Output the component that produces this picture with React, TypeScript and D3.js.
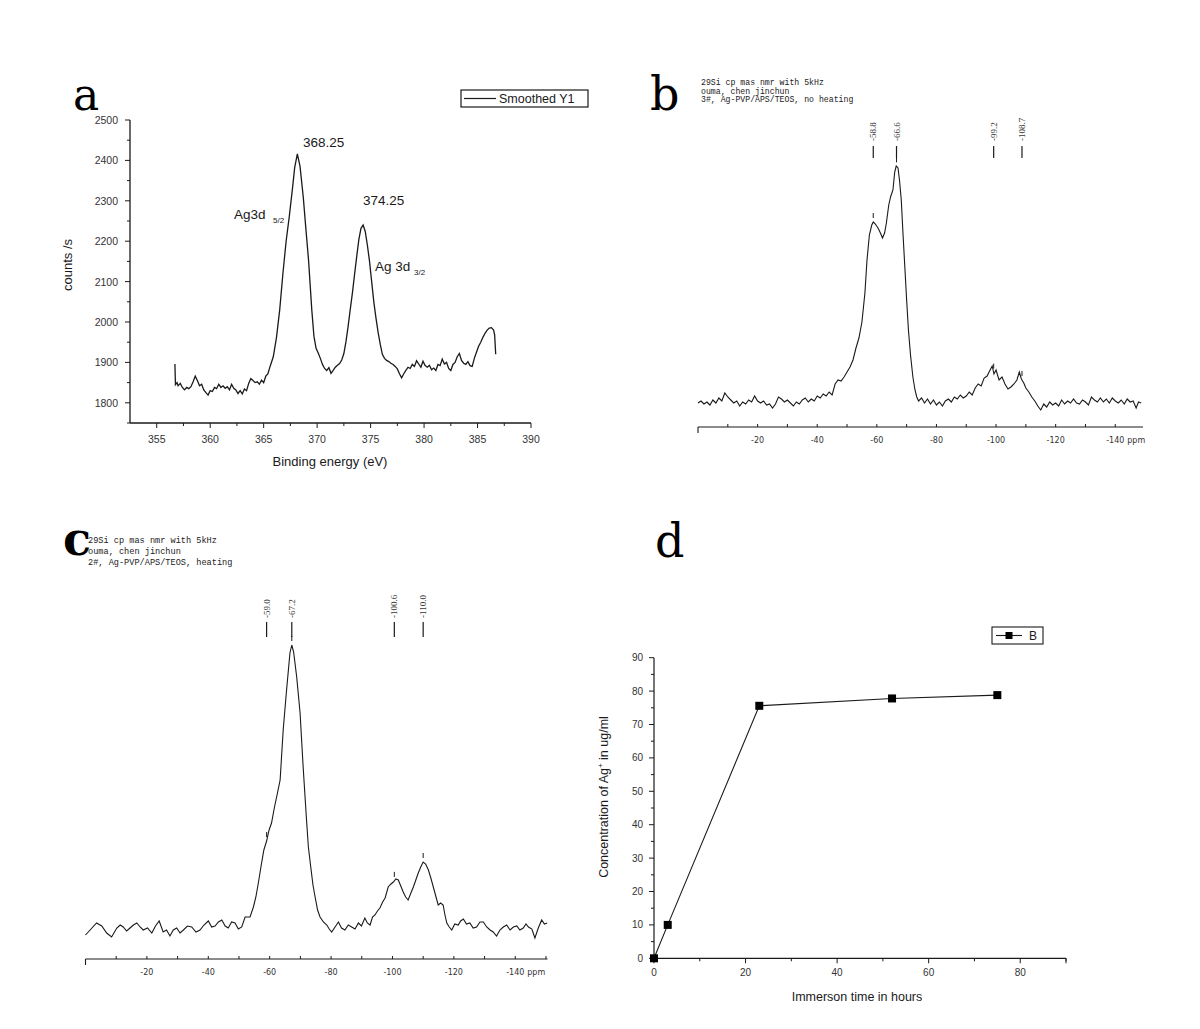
import React from 'react';
import * as d3 from 'd3';

// ---------- Panel a: XPS spectrum (binding energy eV, counts/s) ----------
const xpsSpectrum: [number, number][] = [
  [356.7, 1896], [356.75, 1845], [356.9, 1850], [357.0, 1842], [357.2, 1848], [357.4, 1838],
  [357.6, 1832], [357.8, 1838], [358.0, 1835], [358.2, 1840], [358.4, 1852], [358.6, 1866],
  [358.8, 1855], [359.0, 1842], [359.2, 1846], [359.4, 1832], [359.6, 1825], [359.8, 1819],
  [360.0, 1830], [360.2, 1828], [360.4, 1838], [360.6, 1835], [360.8, 1846], [361.0, 1838],
  [361.2, 1842], [361.4, 1836], [361.6, 1840], [361.8, 1832], [362.0, 1846], [362.2, 1836],
  [362.4, 1832], [362.6, 1823], [362.8, 1830], [363.0, 1822], [363.2, 1834], [363.4, 1830],
  [363.6, 1848], [363.8, 1860], [364.0, 1855], [364.2, 1850], [364.4, 1852], [364.6, 1846],
  [364.8, 1856], [365.0, 1850], [365.2, 1866], [365.4, 1872], [365.6, 1890], [365.9, 1914],
  [366.2, 1962], [366.5, 2030], [366.8, 2120], [367.1, 2200], [367.4, 2262], [367.7, 2332],
  [367.9, 2382], [368.15, 2416], [368.4, 2385], [368.7, 2310], [368.95, 2230], [369.2, 2152],
  [369.5, 2030], [369.7, 1965], [369.9, 1935], [370.1, 1923], [370.3, 1910], [370.5, 1895],
  [370.7, 1885], [370.9, 1880], [371.1, 1887], [371.3, 1873], [371.5, 1880], [371.7, 1888],
  [371.9, 1893], [372.1, 1897], [372.3, 1906], [372.5, 1922], [372.7, 1952], [372.9, 1990],
  [373.1, 2032], [373.3, 2072], [373.5, 2118], [373.7, 2162], [373.9, 2204], [374.1, 2232],
  [374.3, 2240], [374.5, 2224], [374.7, 2190], [374.9, 2150], [375.1, 2100], [375.3, 2050],
  [375.5, 2010], [375.7, 1975], [375.9, 1945], [376.1, 1920], [376.3, 1910], [376.5, 1905],
  [376.7, 1902], [376.9, 1898], [377.1, 1895], [377.3, 1890], [377.5, 1884], [377.7, 1872],
  [377.9, 1862], [378.1, 1872], [378.3, 1880], [378.5, 1888], [378.7, 1885], [378.9, 1895],
  [379.1, 1890], [379.3, 1904], [379.5, 1896], [379.7, 1888], [379.9, 1903], [380.1, 1892],
  [380.3, 1888], [380.5, 1893], [380.7, 1882], [380.9, 1886], [381.1, 1880], [381.3, 1895],
  [381.5, 1892], [381.7, 1908], [381.9, 1896], [382.1, 1900], [382.3, 1885], [382.5, 1880],
  [382.7, 1895], [382.9, 1900], [383.1, 1914], [383.3, 1922], [383.5, 1905], [383.7, 1898],
  [383.9, 1895], [384.1, 1902], [384.3, 1892], [384.5, 1890], [384.7, 1910], [384.9, 1925],
  [385.1, 1940], [385.3, 1950], [385.5, 1962], [385.7, 1972], [385.9, 1980], [386.1, 1985],
  [386.3, 1986], [386.5, 1980], [386.6, 1968], [386.7, 1920],
];
const aXTicks = [355, 360, 365, 370, 375, 380, 385, 390];
const aYTicks = [1800, 1900, 2000, 2100, 2200, 2300, 2400, 2500];

// ---------- Panel b: 29Si NMR, no heating (ppm, arbitrary intensity) ----------
const nmrNoHeat: [number, number][] = [
  [0, 7], [-1, 9], [-2, 6], [-3, 8], [-4, 5], [-5, 10], [-6, 7], [-7, 12], [-8, 9], [-9, 17],
  [-10, 13], [-11, 10], [-12, 7], [-13, 9], [-14, 4], [-15, 8], [-16, 6], [-17, 10], [-18, 8],
  [-19, 14], [-20, 9], [-21, 7], [-22, 9], [-23, 5], [-24, 6], [-25, 2], [-26, 6], [-27, 13],
  [-28, 11], [-29, 8], [-30, 10], [-31, 7], [-32, 4], [-33, 8], [-34, 6], [-35, 10], [-36, 12],
  [-37, 8], [-38, 11], [-39, 9], [-40, 14], [-41, 12], [-42, 16], [-43, 14], [-44, 18], [-45, 15],
  [-46, 26], [-47, 30], [-48, 29], [-49, 33], [-50, 38], [-51, 43], [-52, 50], [-53, 62], [-54, 72],
  [-55, 88], [-56, 117], [-56.7, 150], [-57.5, 175], [-58.3, 185], [-58.8, 188], [-59.5, 186],
  [-60.4, 182], [-61.2, 177], [-61.9, 172], [-62.6, 177], [-63.2, 187], [-64, 205], [-64.6, 213],
  [-65.4, 220], [-66, 238], [-66.5, 244], [-67.1, 242], [-67.6, 230], [-68.2, 210], [-68.8, 175],
  [-69.3, 148], [-70, 110], [-70.6, 80], [-71.3, 55], [-72.1, 33], [-72.8, 20], [-73.4, 13],
  [-74, 9], [-75, 12], [-76, 7], [-77, 11], [-78, 6], [-79, 10], [-80, 5], [-81, 8], [-82, 4],
  [-83, 9], [-84, 11], [-85, 8], [-86, 13], [-87, 11], [-88, 15], [-89, 12], [-90, 14], [-91, 18],
  [-92, 15], [-93, 22], [-94, 26], [-95, 24], [-96, 32], [-97, 34], [-98, 40], [-98.7, 44],
  [-99.3, 36], [-100, 40], [-101, 30], [-102, 33], [-103, 26], [-104, 21], [-105, 23], [-106, 26],
  [-107, 30], [-107.8, 38], [-108.5, 31], [-109.3, 27], [-110, 22], [-111, 18], [-112, 13],
  [-113, 9], [-114, 4], [-115, 0], [-116, 6], [-117, 3], [-118, 8], [-119, 5], [-120, 7], [-121, 4],
  [-122, 10], [-123, 6], [-124, 9], [-125, 7], [-126, 11], [-127, 7], [-128, 6], [-129, 10],
  [-130, 8], [-131, 5], [-132, 13], [-133, 10], [-134, 8], [-135, 12], [-136, 8], [-137, 11],
  [-138, 7], [-139, 12], [-140, 9], [-141, 7], [-142, 10], [-143, 6], [-144, 11], [-145, 8],
  [-146, 9], [-147, 2], [-147.8, 8], [-148.7, 7],
];
const bPeaks = [-58.8, -66.6, -99.2, -108.7];
const bPeakLabels = ['-58.8', '-66.6', '-99.2', '-108.7'];
const bHeader = ['29Si cp mas nmr with 5kHz', 'ouma, chen jinchun', '3#, Ag-PVP/APS/TEOS, no heating'];

// ---------- Panel c: 29Si NMR, heating ----------
const nmrHeat: [number, number][] = [
  [0, 5], [-1.5, 10], [-3.6, 17], [-5.3, 14], [-6.9, 7], [-8.5, 3], [-10.2, 12], [-11.3, 15],
  [-12.3, 13], [-13.4, 9], [-14.5, 12], [-15.6, 15], [-16.7, 17], [-17.8, 13], [-18.8, 10],
  [-20.2, 12], [-21.6, 7], [-22.8, 14], [-24, 19], [-25.3, 8], [-26.4, 10], [-27.5, 4], [-28.6, 10],
  [-29.7, 12], [-30.8, 7], [-31.9, 10], [-33.2, 14], [-34.6, 13], [-36, 8], [-37.3, 10], [-38.6, 15],
  [-40, 19], [-41.1, 13], [-42.2, 14], [-43.3, 18], [-44.4, 20], [-45.5, 14], [-46.5, 12],
  [-47.6, 18], [-48.7, 17], [-49.8, 11], [-50.9, 13], [-52, 23], [-53.6, 23], [-54.7, 33],
  [-55.5, 43], [-56.3, 57], [-57.2, 74], [-58.1, 90], [-59, 99], [-59.8, 110], [-60.6, 117],
  [-61.5, 132], [-62.4, 145], [-63.4, 160], [-64.4, 210], [-65.5, 250], [-66.6, 287], [-67.2, 295],
  [-67.8, 288], [-68.8, 263], [-69.9, 227], [-70.9, 173], [-72, 120], [-72.6, 93], [-73.3, 75],
  [-74.1, 55], [-74.8, 43], [-75.6, 30], [-76.4, 23], [-77.5, 18], [-78.6, 15], [-79.4, 11],
  [-80.2, 8], [-81.3, 13], [-82.4, 18], [-83.4, 12], [-84.5, 10], [-85.6, 15], [-86.7, 13],
  [-87.8, 11], [-88.9, 17], [-89.9, 14], [-91, 22], [-91.8, 17], [-92.7, 15], [-93.5, 23],
  [-94.3, 25], [-95.1, 29], [-95.9, 32], [-96.8, 38], [-97.6, 42], [-98.6, 53], [-99.5, 56],
  [-100.3, 58], [-101.1, 61], [-101.9, 60], [-102.7, 54], [-103.5, 48], [-104.3, 43], [-105.1, 40],
  [-106, 47], [-106.8, 53], [-107.6, 60], [-108.4, 67], [-109.2, 73], [-110, 78], [-110.8, 76],
  [-111.7, 70], [-112.5, 62], [-113.3, 53], [-114.1, 44], [-114.9, 35], [-115.7, 37], [-116.5, 35],
  [-117.1, 25], [-117.7, 17], [-118.5, 13], [-119.3, 10], [-120.3, 16], [-121.4, 15], [-122.2, 19],
  [-123.1, 21], [-124.1, 16], [-125.2, 17], [-126.3, 12], [-127.4, 13], [-128.5, 18], [-129.6, 18],
  [-130.7, 13], [-131.8, 10], [-132.8, 8], [-133.9, 4], [-135, 10], [-136.1, 13], [-137.2, 15],
  [-138.3, 10], [-139.4, 13], [-140.5, 14], [-141.5, 10], [-142.6, 12], [-143.5, 16], [-144.3, 13],
  [-145.4, 11], [-146.4, 2], [-147.5, 12], [-148.6, 20], [-149.5, 16], [-150.4, 17],
];
const cPeaks = [-59.0, -67.2, -100.6, -110.0];
const cPeakLabels = ['-59.0', '-67.2', '-100.6', '-110.0'];
const cHeader = ['29Si cp mas nmr with 5kHz', 'ouma, chen jinchun', '2#, Ag-PVP/APS/TEOS, heating'];

const nmrLabelTicks = [-20, -40, -60, -80, -100, -120, -140];

// ---------- Panel d: Ag+ release ----------
const dTime = [0, 3, 23, 52, 75];
const dConc = [0, 10, 75.6, 77.8, 78.8];
const dXTicks = [0, 20, 40, 60, 80];
const dYTicks = [0, 10, 20, 30, 40, 50, 60, 70, 80, 90];

const SANS = "'Liberation Sans', Arial, sans-serif";
const NMRF = "'DejaVu Sans', Verdana, sans-serif";
const SERIF = "'DejaVu Serif', 'Liberation Serif', serif";
const MONO = "'Liberation Mono', 'DejaVu Sans Mono', monospace";
const INK = '#1a1a1a';

function interp(data: [number, number][], x: number) {
  const sorted = [...data].sort((a, b) => a[0] - b[0]);
  const i = d3.bisector((d: [number, number]) => d[0]).left(sorted, x);
  if (i <= 0) return sorted[0][1];
  if (i >= sorted.length) return sorted[sorted.length - 1][1];
  const a = sorted[i - 1], b = sorted[i];
  const t = (x - a[0]) / (b[0] - a[0]);
  return a[1] + t * (b[1] - a[1]);
}

function PanelA() {
  const x = d3.scaleLinear().domain([352.5, 390]).range([130, 531]);
  const y = d3.scaleLinear().domain([1750, 2500]).range([423, 120]);
  const line = d3.line<[number, number]>().x(d => x(d[0])).y(d => y(d[1]));
  const [x0, x1] = x.range();
  const [yb, yt] = y.range();
  const minorX = d3.range(355, 390.01, 2.5).filter(v => !aXTicks.includes(v));
  const minorY = d3.range(1750, 2500.01, 50).filter(v => !aYTicks.includes(v));
  return (
    <g fontFamily={SANS} fill={INK}>
      <text x={73} y={110} fontFamily={SERIF} fontSize={44} fill="#000">a</text>
      <line x1={x0} x2={x0} y1={yb} y2={yt} stroke={INK} strokeWidth={1.3} />
      <line x1={x0} x2={x1} y1={yb} y2={yb} stroke={INK} strokeWidth={1.3} />
      {aYTicks.map(v => (
        <g key={'ay' + v}>
          <line x1={x0 - 5} x2={x0} y1={y(v)} y2={y(v)} stroke={INK} />
          <text x={x0 - 12} y={y(v) + 4} fontSize={10.5} textAnchor="end" fill="#333">{v}</text>
        </g>
      ))}
      {minorY.map(v => <line key={'amy' + v} x1={x0 - 3} x2={x0} y1={y(v)} y2={y(v)} stroke={INK} />)}
      {aXTicks.map(v => (
        <g key={'ax' + v}>
          <line x1={x(v)} x2={x(v)} y1={yb} y2={yb + 5} stroke={INK} />
          <text x={x(v)} y={yb + 20} fontSize={10.5} textAnchor="middle" fill="#333">{v}</text>
        </g>
      ))}
      {minorX.map(v => <line key={'amx' + v} x1={x(v)} x2={x(v)} y1={yb} y2={yb + 3} stroke={INK} />)}
      <path d={line(xpsSpectrum) || ''} fill="none" stroke={INK} strokeWidth={1.3} />
      <text transform={`translate(72,265) rotate(-90)`} fontSize={13} textAnchor="middle">counts /s</text>
      <text x={330} y={466} fontSize={13} textAnchor="middle">Binding energy (eV)</text>
      <text x={303} y={147} fontSize={13.5}>368.25</text>
      <text x={363} y={205} fontSize={13.5}>374.25</text>
      <text x={234} y={219} fontSize={13.5}>Ag3d</text>
      <text x={273} y={223} fontSize={8}>5/2</text>
      <text x={375} y={271} fontSize={13.5}>Ag 3d</text>
      <text x={414} y={275} fontSize={8}>3/2</text>
      <rect x={461} y={90} width={127} height={17} fill="none" stroke={INK} strokeWidth={1.2} />
      <line x1={464} x2={496} y1={98.5} y2={98.5} stroke={INK} strokeWidth={1.2} />
      <text x={499} y={103} fontSize={12.5}>Smoothed Y1</text>
    </g>
  );
}

function NmrPanel(props: {
  letter: string; letterX: number; letterY: number; letterBold?: boolean;
  header: string[]; headerX: number; headerY: number; headerStep: number; headerSize: number;
  data: [number, number][]; xDomain: [number, number]; xRange: [number, number];
  yRange: [number, number]; yMax: number; axisY: number;
  peaks: number[]; peakLabels: string[]; labelBottom: number; tickTop: number; tickBottom: number;
}) {
  const p = props;
  const x = d3.scaleLinear().domain(p.xDomain).range(p.xRange);
  const y = d3.scaleLinear().domain([0, p.yMax]).range(p.yRange);
  const line = d3.line<[number, number]>().x(d => x(d[0])).y(d => y(d[1]));
  const minor = d3.range(-10, p.xDomain[1] - 0.01, -10);
  return (
    <g fill={INK}>
      <text x={p.letterX} y={p.letterY} fontFamily={SERIF} fontSize={46} fontWeight={p.letterBold ? 'bold' : 'normal'} fill="#000">{p.letter}</text>
      {p.header.map((t, i) => (
        <text key={i} x={p.headerX} y={p.headerY + i * p.headerStep} fontFamily={MONO} fontSize={p.headerSize} fill="#222">{t}</text>
      ))}
      {p.peaks.map((v, i) => (
        <g key={'pk' + i}>
          <text transform={`translate(${x(v) + 3},${p.labelBottom}) rotate(-90)`} fontFamily="'Liberation Serif', serif" fontSize={9} fill="#333">{p.peakLabels[i]}</text>
          <line x1={x(v)} x2={x(v)} y1={p.tickTop} y2={p.tickBottom} stroke={INK} strokeWidth={1.2} />
          <line x1={x(v)} x2={x(v)} y1={y(interp(p.data, v)) - 9} y2={y(interp(p.data, v)) - 4} stroke={INK} strokeWidth={1} />
        </g>
      ))}
      <path d={line(p.data) || ''} fill="none" stroke={INK} strokeWidth={1.1} />
      <line x1={p.xRange[0]} x2={p.xRange[1]} y1={p.axisY} y2={p.axisY} stroke={INK} strokeWidth={1.1} />
      <line x1={p.xRange[0]} x2={p.xRange[0]} y1={p.axisY} y2={p.axisY + 6} stroke={INK} strokeWidth={1.1} />
      {minor.map(v => <line key={'t' + v} x1={x(v)} x2={x(v)} y1={p.axisY - 3} y2={p.axisY} stroke={INK} />)}
      {nmrLabelTicks.map(v => (
        <text key={'l' + v} x={x(v)} y={p.axisY + 16} fontFamily={NMRF} fontSize={8} textAnchor="middle" fill="#333">{v}</text>
      ))}
      <text x={x(-140) + 12} y={p.axisY + 16} fontFamily={NMRF} fontSize={8} fill="#333">ppm</text>
    </g>
  );
}

function PanelD() {
  const x = d3.scaleLinear().domain([0, 90]).range([654, 1066]);
  const y = d3.scaleLinear().domain([0, 90]).range([958.3, 657.7]);
  const pts: [number, number][] = dTime.map((t, i) => [t, dConc[i]]);
  const line = d3.line<[number, number]>().x(d => x(d[0])).y(d => y(d[1]));
  const [x0, x1] = x.range();
  const [yb, yt] = y.range();
  const minorX = d3.range(10, 90.01, 20);
  const minorY = d3.range(5, 90, 10);
  const s = 8;
  return (
    <g fontFamily={SANS} fill={INK}>
      <text x={655} y={557} fontFamily={SERIF} fontSize={46} fill="#000">d</text>
      <line x1={x0} x2={x0} y1={yb} y2={yt} stroke={INK} strokeWidth={1.2} />
      <line x1={x0} x2={x1} y1={yb} y2={yb} stroke={INK} strokeWidth={1.2} />
      {dYTicks.map(v => (
        <g key={'dy' + v}>
          <line x1={x0 - 5} x2={x0} y1={y(v)} y2={y(v)} stroke={INK} />
          <text x={x0 - 11} y={y(v) + 3.5} fontSize={10} textAnchor="end" fill="#333">{v}</text>
        </g>
      ))}
      {minorY.map(v => <line key={'dmy' + v} x1={x0 - 3} x2={x0} y1={y(v)} y2={y(v)} stroke={INK} />)}
      {dXTicks.map(v => (
        <g key={'dx' + v}>
          <line x1={x(v)} x2={x(v)} y1={yb} y2={yb + 5} stroke={INK} />
          <text x={x(v)} y={yb + 18} fontSize={10} textAnchor="middle" fill="#333">{v}</text>
        </g>
      ))}
      {minorX.map(v => <line key={'dmx' + v} x1={x(v)} x2={x(v)} y1={yb} y2={yb + 3} stroke={INK} />)}
      <line x1={x1} x2={x1} y1={yb} y2={yb + 5} stroke={INK} />
      <path d={line(pts) || ''} fill="none" stroke={INK} strokeWidth={1.1} />
      {pts.map((d, i) => (
        <rect key={'m' + i} x={x(d[0]) - s / 2} y={y(d[1]) - s / 2} width={s} height={s} fill="#000" />
      ))}
      <text x={857} y={1001} fontSize={12.5} textAnchor="middle">Immerson time in hours</text>
      <text transform={`translate(608,797) rotate(-90)`} fontSize={12.5} textAnchor="middle">
        Concentration of Ag<tspan dy={-5} fontSize={8}>+</tspan><tspan dy={5}> in ug/ml</tspan>
      </text>
      <rect x={992} y={627} width={51} height={17} fill="none" stroke={INK} strokeWidth={1.1} />
      <line x1={996} x2={1022} y1={635.5} y2={635.5} stroke={INK} strokeWidth={1.1} />
      <rect x={1009 - 3.5} y={635.5 - 3.5} width={7} height={7} fill="#000" />
      <text x={1029} y={640} fontSize={12}>B</text>
    </g>
  );
}

export default function App() {
  return (
    <svg width={1200} height={1029} viewBox="0 0 1200 1029"
      style={{ position: 'absolute', left: 0, top: 0, background: '#fff' }}>
      <rect x={0} y={0} width={1200} height={1029} fill="#fff" />
      <PanelA />
      <NmrPanel letter="b" letterX={650} letterY={110}
        header={bHeader} headerX={701} headerY={85} headerStep={8.6} headerSize={8.2}
        data={nmrNoHeat} xDomain={[0, -149.3]} xRange={[698, 1143]} yRange={[410, 160]} yMax={250}
        axisY={427} peaks={bPeaks} peakLabels={bPeakLabels} labelBottom={141} tickTop={146} tickBottom={158} />
      <NmrPanel letter="c" letterX={63} letterY={555} letterBold
        header={cHeader} headerX={88} headerY={543} headerStep={11} headerSize={8.6}
        data={nmrHeat} xDomain={[0, -150.5]} xRange={[85.5, 547.5]} yRange={[940, 640]} yMax={300}
        axisY={959} peaks={cPeaks} peakLabels={cPeakLabels} labelBottom={618} tickTop={622} tickBottom={637} />
      <PanelD />
    </svg>
  );
}
